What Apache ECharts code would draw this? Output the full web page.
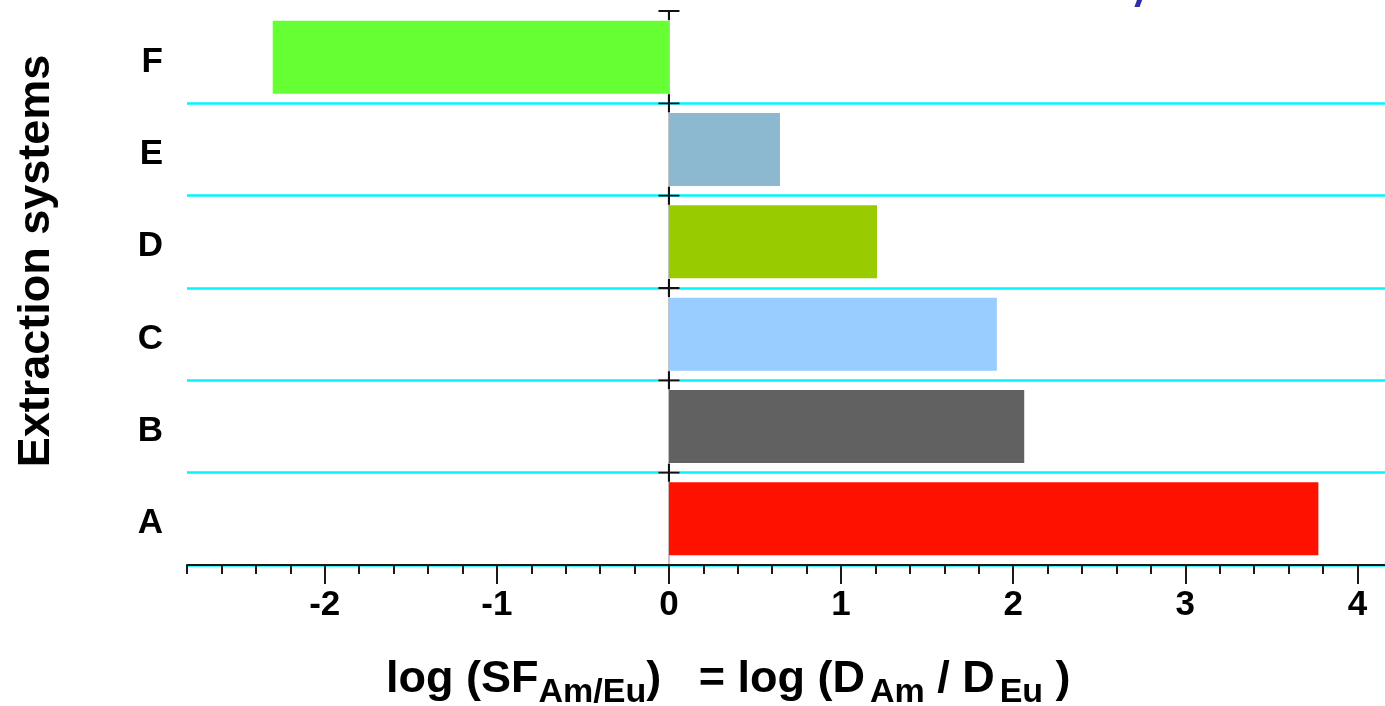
<!DOCTYPE html>
<html>
<head>
<meta charset="utf-8">
<script src="https://cdn.jsdelivr.net/npm/echarts@6/dist/echarts.min.js"></script>
<style>
html,body{margin:0;padding:0;background:#fff;}
#chart{width:1385px;height:706px;}
</style>
</head>
<body>
<div id="chart"></div>
<script>
// ---- data ----
const categories = ['A', 'B', 'C', 'D', 'E', 'F'];
const values = [3.773, 2.064, 1.905, 1.209, 0.645, -2.302];
const majorTicks = [-2, -1, 0, 1, 2, 3, 4];
const minorTicks = [-2.8, -2.6, -2.4, -2.2, -2.0, -1.8, -1.6, -1.4, -1.2, -1.0,
  -0.8, -0.6, -0.4, -0.2, 0, 0.2, 0.4, 0.6, 0.8, 1.0, 1.2, 1.4, 1.6, 1.8, 2.0,
  2.2, 2.4, 2.6, 2.8, 3.0, 3.2, 3.4, 3.6, 3.8, 4.0];
const bandBoundaries = [1, 2, 3, 4, 5];
const topBoundary = [6];

// ---- styles ----
const barColors = ['#ff1100', '#616161', '#99ccff', '#99cc00', '#8cb9cf', '#66ff33'];
const FONT = '"Liberation Sans", Arial, sans-serif';
const CYAN = '#00f5ff';

const chart = echarts.init(document.getElementById('chart'), null, {renderer: 'canvas'});

const option = {
  animation: false,
  backgroundColor: '#ffffff',
  grid: {left: 187, right: 0, top: 11, bottom: 141, containLabel: false},
  xAxis: [
    {
      type: 'value', min: -2.8, max: 4.16, position: 'bottom',
      axisLine: {show: true, onZero: false, lineStyle: {color: '#1a1a1a', width: 2}},
      axisTick: {show: true, customValues: minorTicks, length: 9, lineStyle: {color: '#1a1a1a', width: 2}},
      axisLabel: {show: true, customValues: majorTicks, margin: 23, color: '#000',
        fontFamily: FONT, fontWeight: 'bold', fontSize: 35},
      splitLine: {show: false}
    },
    {
      type: 'value', min: -2.8, max: 4.16, position: 'bottom', offset: 0,
      axisLine: {show: false, onZero: false},
      axisTick: {show: true, customValues: majorTicks, length: 19, lineStyle: {color: '#1a1a1a', width: 2}},
      axisLabel: {show: false},
      splitLine: {show: false}
    }
  ],
  yAxis: [
    {
      type: 'category', data: categories, position: 'left',
      axisLine: {show: false, onZero: false},
      axisTick: {show: false},
      axisLabel: {show: true, margin: 24, color: '#000', fontFamily: FONT, fontWeight: 'bold', fontSize: 35,
        verticalAlign: 'top', lineHeight: 10},
      splitLine: {show: true, lineStyle: {
        color: [CYAN, CYAN, CYAN, CYAN, CYAN, CYAN, 'rgba(0,0,0,0)'], width: 2.5}},
      name: 'Extraction systems', nameLocation: 'middle', nameGap: 128,
      nameTextStyle: {color: '#000', fontFamily: FONT, fontWeight: 'bold', fontSize: 45,
        padding: [0, 0, 0, 54]}
    },
    {
      type: 'value', min: 0, max: 6, position: 'left',
      axisLine: {show: true, onZero: true, lineStyle: {color: '#c4c4c4', width: 2}},
      axisTick: {show: false},
      axisLabel: {show: false},
      splitLine: {show: false}
    }
  ],
  series: [
    {
      type: 'bar', xAxisIndex: 0, yAxisIndex: 0,
      data: values, barWidth: 73,
      itemStyle: {color: function (p) { return barColors[p.dataIndex]; }}
    },
    {
      type: 'scatter', xAxisIndex: 0, yAxisIndex: 1, clip: false,
      data: bandBoundaries.map(function (b) { return [0, b]; }),
      symbol: 'path://M0,9h20v2h-20z M9,0h2v20h-2z',
      symbolSize: [21, 18],
      itemStyle: {color: '#111', opacity: 1},
      silent: true, z: 5
    },
    {
      type: 'scatter', xAxisIndex: 0, yAxisIndex: 1, clip: false,
      data: topBoundary.map(function (b) { return [0, b]; }),
      symbol: 'path://M0,0h20v2h-20z M9,0h2v10h-2z',
      symbolSize: [21, 10], symbolOffset: [0, 4],
      itemStyle: {color: '#111', opacity: 1},
      silent: true, z: 5
    }
  ],
  graphic: [
    {
      type: 'text', left: 386, top: 657, silent: true,
      style: {
        text: '{m|log (SF}{s|Am/Eu}{m|)   = log (D}{t|Am}{m| / D}{t|Eu}{m| )}',
        fill: '#000',
        rich: {
          m: {fontFamily: FONT, fontWeight: 'bold', fontSize: 45, lineHeight: 46, padding: [0, 0, 8, 0], verticalAlign: 'bottom', fill: '#000'},
          s: {fontFamily: FONT, fontWeight: 'bold', fontSize: 34, lineHeight: 34, verticalAlign: 'bottom', fill: '#000'},
          t: {fontFamily: FONT, fontWeight: 'bold', fontSize: 34, lineHeight: 34, padding: [0, 0, 0, 5], verticalAlign: 'bottom', fill: '#000'}
        }
      }
    },
    {
      type: 'text', left: 1136, top: -28, silent: true,
      style: {text: '/', fill: '#2f2fa8', fontFamily: FONT, fontWeight: 'bold', fontStyle: 'italic', fontSize: 44}
    }
  ]
};

chart.setOption(option);
</script>
</body>
</html>
